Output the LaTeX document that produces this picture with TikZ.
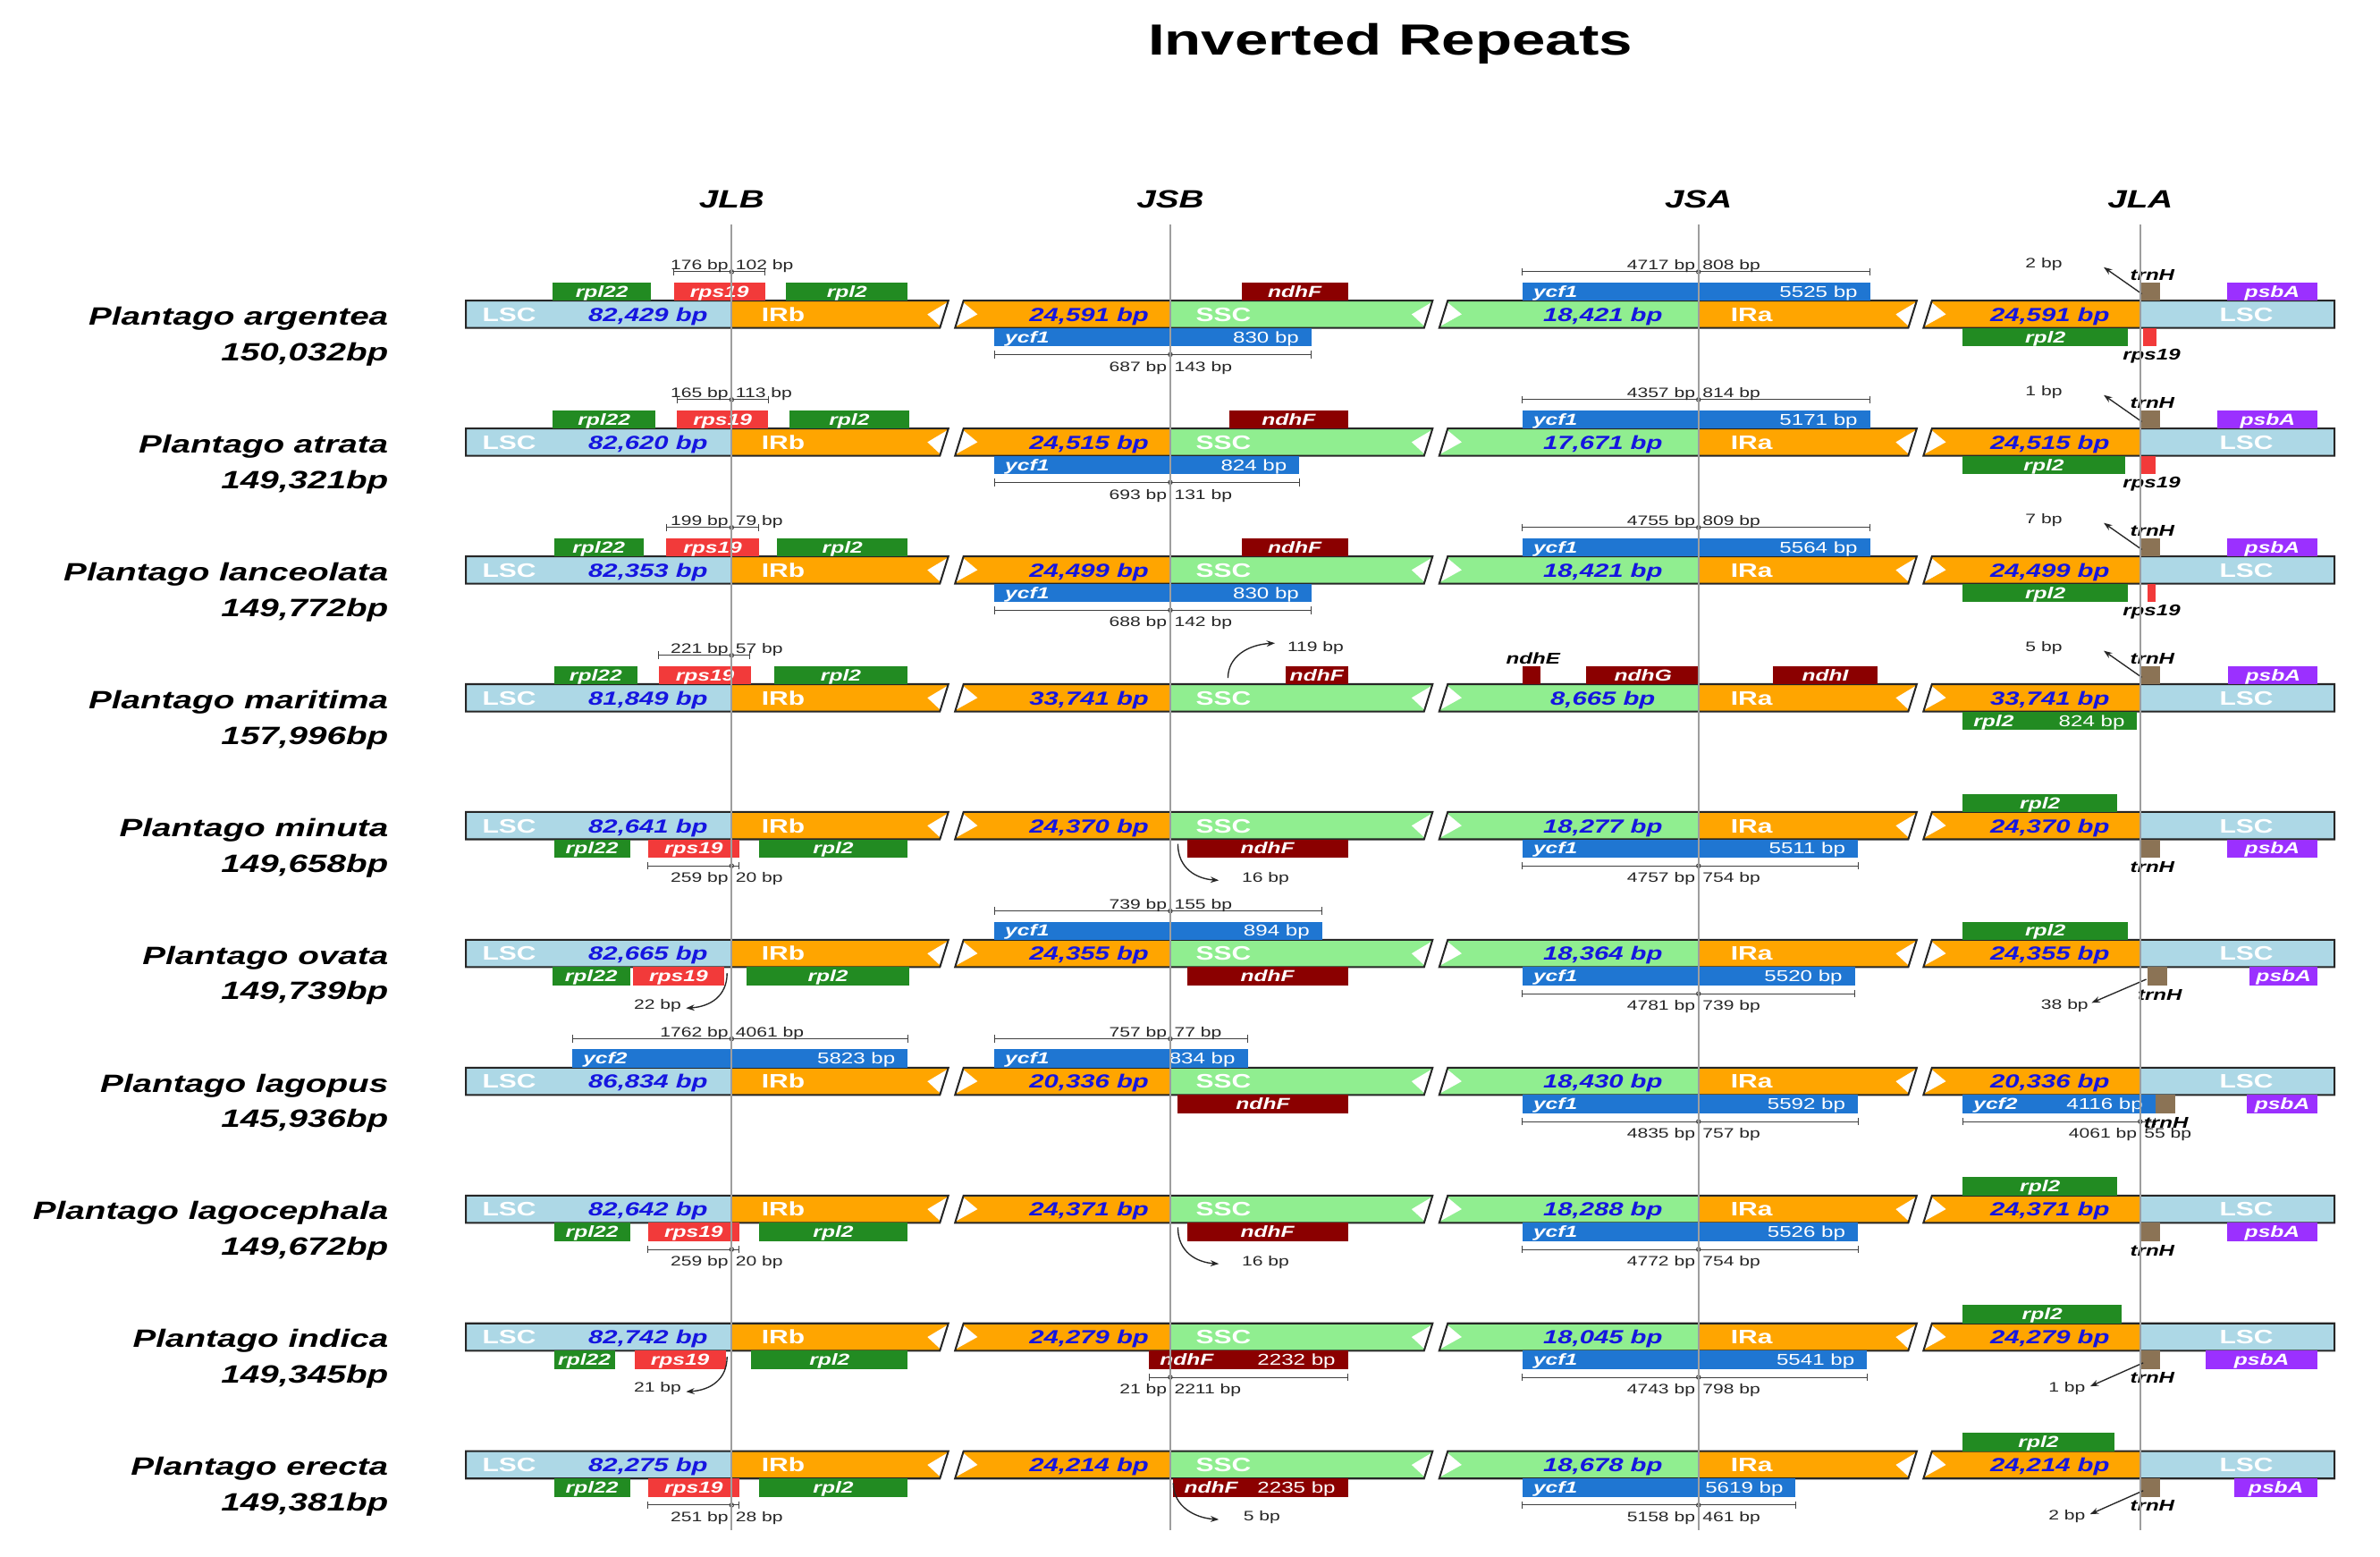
\documentclass[tikz,border=0pt]{standalone}
\usepackage{fontspec}
\setmainfont{Liberation Sans}[FakeStretch=1.38]
\usetikzlibrary{arrows.meta}
\definecolor{lsc}{HTML}{ADD8E6}
\definecolor{irc}{HTML}{FFA500}
\definecolor{sscc}{HTML}{90EE90}
\definecolor{grn}{HTML}{228B22}
\definecolor{rps}{HTML}{F23A3A}
\definecolor{ndh}{HTML}{8B0000}
\definecolor{ycf}{HTML}{1F76D2}
\definecolor{psba}{HTML}{9B30FF}
\definecolor{trnh}{HTML}{8B7355}
\definecolor{bptxt}{HTML}{1515E0}
\tikzset{
 gt/.style={inner sep=0pt, anchor=base, text=white, font=\fontsize{10.5}{11}\selectfont\bfseries\itshape},
 gn/.style={inner sep=0pt, anchor=base, text=white, font=\fontsize{10.3}{11}\selectfont},
 dt/.style={inner sep=0pt, anchor=base, text=black!85, font=\fontsize{9}{10}\selectfont},
 lab/.style={inner sep=0pt, anchor=base, text=black, font=\fontsize{10.3}{11}\selectfont\bfseries\itshape},
 regt/.style={inner sep=0pt, anchor=base, text=white, font=\fontsize{12.8}{14}\selectfont\bfseries},
 bpt/.style={inner sep=0pt, anchor=base, text=bptxt, font=\fontsize{12.5}{14}\selectfont\bfseries\itshape},
 spt/.style={inner sep=0pt, anchor=base east, text=black, font=\fontsize{16.5}{18}\selectfont\bfseries\itshape},
 hdr/.style={inner sep=0pt, anchor=base, text=black, font=\fontsize{16.5}{18}\selectfont\bfseries\itshape},
 barline/.style={draw=black!85, line width=1.2pt, line join=miter},
 dim/.style={draw=black!75, line width=0.6pt},
 arr/.style={draw=black!85, line width=0.8pt, -{Stealth[length=5.5pt,width=4pt]}},
 vline/.style={draw=black!38, line width=1.3pt},
}
\newcommand{\chlbar}[4]{%
 \fill[lsc] (307,-9) rectangle (482,9);
 \fill[irc] (482,-9) -- (624.8,-9) -- (619.2,9) -- (482,9) -- cycle;
 \fill[irc] (634.8,-9) -- (771,-9) -- (771,9) -- (629.2,9) -- cycle;
 \fill[sscc] (771,-9) -- (943.8,-9) -- (938.2,9) -- (771,9) -- cycle;
 \fill[sscc] (953.8,-9) -- (1119,-9) -- (1119,9) -- (948.2,9) -- cycle;
 \fill[irc] (1119,-9) -- (1262.8,-9) -- (1257.2,9) -- (1119,9) -- cycle;
 \fill[irc] (1272.8,-9) -- (1410,-9) -- (1410,9) -- (1267.2,9) -- cycle;
 \fill[lsc] (1410,-9) rectangle (1538,9);
 \foreach \brk in {627,946,1265}{
  \fill[white] (\brk-16,0) -- (\brk-2.6,-8) -- (\brk-7.4,8) -- cycle;
  \fill[white] (\brk+17,0) -- (\brk+7.4,-8) -- (\brk+2.6,8) -- cycle;
 }
 \draw[barline] (624.8,-9) -- (307,-9) -- (307,9) -- (619.2,9) -- cycle;
 \draw[barline] (634.8,-9) -- (943.8,-9) -- (938.2,9) -- (629.2,9) -- cycle;
 \draw[barline] (953.8,-9) -- (1262.8,-9) -- (1257.2,9) -- (948.2,9) -- cycle;
 \draw[barline] (1272.8,-9) -- (1538,-9) -- (1538,9) -- (1267.2,9) -- cycle;
 \node[regt] at (335.5,4.6) {LSC};
 \node[bpt] at (427,4.6) {#1};
 \node[regt] at (516,4.6) {IRb};
 \node[bpt] at (717.5,4.6) {#2};
 \node[regt] at (806,4.6) {SSC};
 \node[bpt] at (1056,4.6) {#3};
 \node[regt] at (1154,4.6) {IRa};
 \node[bpt] at (1350.5,4.6) {#4};
 \node[regt] at (1480,4.6) {LSC};
}
\newcommand{\spname}[2]{\node[spt] at (256,7) {#1}; \node[spt] at (256,30.5) {#2};}
\newcommand{\geneU}[4]{\fill[#1] (#2,-21) rectangle (#3,-9); \node[gt] at ({(#2+#3)/2},-11.3) {#4};}
\newcommand{\geneD}[4]{\fill[#1] (#2,9) rectangle (#3,21); \node[gt] at ({(#2+#3)/2},18.7) {#4};}
\newcommand{\geneUU}[5]{\fill[#1] (#2,-21) rectangle (#3,-9); \node[gt,anchor=base west] at (#2+7,-11.3) {#4}; \node[gn,anchor=base east] at (#3-8,-11.3) {#5};}
\newcommand{\geneDD}[5]{\fill[#1] (#2,9) rectangle (#3,21); \node[gt,anchor=base west] at (#2+7,18.7) {#4}; \node[gn,anchor=base east] at (#3-8,18.7) {#5};}
\newcommand{\dimU}[5]{%
 \draw[dim] (#1,-28) -- (#3,-28);
 \draw[dim] (#1,-30.5) -- (#1,-25.5);
 \draw[dim] (#3,-30.5) -- (#3,-25.5);
 \draw[dim] (#2,-28) circle[radius=1.3pt];
 \node[dt,anchor=base east] at (#2-2,-29.5) {#4};
 \node[dt,anchor=base west] at (#2+2.5,-29.5) {#5};}
\newcommand{\dimD}[5]{%
 \draw[dim] (#1,26.5) -- (#3,26.5);
 \draw[dim] (#1,24) -- (#1,29);
 \draw[dim] (#3,24) -- (#3,29);
 \draw[dim] (#2,26.5) circle[radius=1.3pt];
 \node[dt,anchor=base east] at (#2-2,37.5) {#4};
 \node[dt,anchor=base west] at (#2+2.5,37.5) {#5};}
\newcommand{\trnHup}[1]{%
 \fill[trnh] (1410,-21) rectangle (1423,-9);
 \node[lab] at (1418,-22.3) {trnH};
 \draw[arr] (1411,-13.5) -- (1386,-31);
 \node[dt] at (1346.5,-30.3) {#1};}
\newcommand{\rpsJLA}[2]{%
 \fill[rps] (#1,9) rectangle (#2,21);
 \node[lab] at (1417.5,30.2) {rps19};}
\newcommand{\trnHdn}[2]{%
 \fill[trnh] (#1,9) rectangle (#2,21);
 \node[lab] at ({(#1+#2)/2+1.5},30.6) {trnH};}
\begin{document}
\begin{tikzpicture}[x=1pt,y=-1pt]
\useasboundingbox (0,0) rectangle (1568,1025.5);
\fill[white] (0,0) rectangle (1568,1025.5);
\node[inner sep=0pt, anchor=base, font=\fontsize{28.7}{32}\selectfont\bfseries] (title) at (916,36) {Inverted Repeats};
\node[hdr] (jlb) at (482,137) {JLB};
\node[hdr] (jsb) at (771,137) {JSB};
\node[hdr] (jsa) at (1119,137) {JSA};
\node[hdr] (jla) at (1410,137) {JLA};
% Row 1
\begin{scope}[shift={(0,207)}]
 \chlbar{82,429 bp}{24,591 bp}{18,421 bp}{24,591 bp}
 \spname{Plantago argentea}{150,032bp}
 \geneU{grn}{364}{429}{rpl22}
 \geneU{rps}{444}{504}{rps19}
 \geneU{grn}{518}{598}{rpl2}
 \dimU{444}{482}{504}{176 bp}{102 bp}
 \geneU{ndh}{818}{888}{ndhF}
 \geneDD{ycf}{655}{864}{ycf1}{830 bp}
 \dimD{655}{771}{864}{687 bp}{143 bp}
 \geneUU{ycf}{1003}{1232}{ycf1}{5525 bp}
 \dimU{1003}{1119}{1232}{4717 bp}{808 bp}
 \trnHup{2 bp}
 \geneU{psba}{1467}{1527}{psbA}
 \geneD{grn}{1293}{1402}{rpl2}
 \rpsJLA{1412}{1421}
\end{scope}
% Row 2
\begin{scope}[shift={(0,291.2)}]
 \chlbar{82,620 bp}{24,515 bp}{17,671 bp}{24,515 bp}
 \spname{Plantago atrata}{149,321bp}
 \geneU{grn}{364}{432}{rpl22}
 \geneU{rps}{446}{506}{rps19}
 \geneU{grn}{520}{599}{rpl2}
 \dimU{446}{482}{506}{165 bp}{113 bp}
 \geneU{ndh}{810}{888}{ndhF}
 \geneDD{ycf}{655}{856}{ycf1}{824 bp}
 \dimD{655}{771}{856}{693 bp}{131 bp}
 \geneUU{ycf}{1003}{1232}{ycf1}{5171 bp}
 \dimU{1003}{1119}{1232}{4357 bp}{814 bp}
 \trnHup{1 bp}
 \geneU{psba}{1461}{1527}{psbA}
 \geneD{grn}{1293}{1400}{rpl2}
 \rpsJLA{1410}{1420}
\end{scope}
% Row 3
\begin{scope}[shift={(0,375.4)}]
 \chlbar{82,353 bp}{24,499 bp}{18,421 bp}{24,499 bp}
 \spname{Plantago lanceolata}{149,772bp}
 \geneU{grn}{365}{424}{rpl22}
 \geneU{rps}{439}{500}{rps19}
 \geneU{grn}{512}{598}{rpl2}
 \dimU{439}{482}{500}{199 bp}{79 bp}
 \geneU{ndh}{818}{888}{ndhF}
 \geneDD{ycf}{655}{864}{ycf1}{830 bp}
 \dimD{655}{771}{864}{688 bp}{142 bp}
 \geneUU{ycf}{1003}{1232}{ycf1}{5564 bp}
 \dimU{1003}{1119}{1232}{4755 bp}{809 bp}
 \trnHup{7 bp}
 \geneU{psba}{1467}{1527}{psbA}
 \geneD{grn}{1293}{1402}{rpl2}
 \rpsJLA{1415}{1420}
\end{scope}
% Row 4
\begin{scope}[shift={(0,459.6)}]
 \chlbar{81,849 bp}{33,741 bp}{8,665 bp}{33,741 bp}
 \spname{Plantago maritima}{157,996bp}
 \geneU{grn}{365}{420}{rpl22}
 \geneU{rps}{434}{495}{rps19}
 \geneU{grn}{510}{598}{rpl2}
 \dimU{434}{482}{494}{221 bp}{57 bp}
 \geneU{ndh}{847}{888}{ndhF}
 \draw[arr] (809,-13) .. controls (809,-27) and (822,-35) .. (840,-36);
 \node[dt,anchor=base west] at (848,-30.5) {119 bp};
 \fill[ndh] (1003,-21) rectangle (1015,-9);
 \node[lab] at (1010,-22.3) {ndhE};
 \geneU{ndh}{1045}{1120}{ndhG}
 \geneU{ndh}{1168}{1237}{ndhI}
 \trnHup{5 bp}
 \geneU{psba}{1468}{1527}{psbA}
 \geneDD{grn}{1293}{1408}{rpl2}{824 bp}
\end{scope}
% Row 5
\begin{scope}[shift={(0,543.8)}]
 \chlbar{82,641 bp}{24,370 bp}{18,277 bp}{24,370 bp}
 \spname{Plantago minuta}{149,658bp}
 \geneD{grn}{365}{415}{rpl22}
 \geneD{rps}{427}{487}{rps19}
 \geneD{grn}{500}{598}{rpl2}
 \dimD{427}{482}{487}{259 bp}{20 bp}
 \geneD{ndh}{782}{888}{ndhF}
 \draw[arr] (776,12) .. controls (776,28) and (788,35) .. (803,36);
 \node[dt,anchor=base west] at (818,37.5) {16 bp};
 \geneDD{ycf}{1003}{1224}{ycf1}{5511 bp}
 \dimD{1003}{1119}{1224}{4757 bp}{754 bp}
 \geneU{grn}{1293}{1395}{rpl2}
 \trnHdn{1410}{1423}
 \geneD{psba}{1467}{1527}{psbA}
\end{scope}
% Row 6
\begin{scope}[shift={(0,628)}]
 \chlbar{82,665 bp}{24,355 bp}{18,364 bp}{24,355 bp}
 \spname{Plantago ovata}{149,739bp}
 \geneUU{ycf}{655}{871}{ycf1}{894 bp}
 \dimU{655}{771}{871}{739 bp}{155 bp}
 \geneU{grn}{1293}{1402}{rpl2}
 \geneD{grn}{364}{415}{rpl22}
 \geneD{rps}{417}{477}{rps19}
 \geneD{grn}{492}{599}{rpl2}
 \draw[arr] (479,13) .. controls (479,28) and (468,35) .. (452,36);
 \node[dt,anchor=base east] at (449,36.5) {22 bp};
 \geneD{ndh}{782}{888}{ndhF}
 \geneDD{ycf}{1003}{1222}{ycf1}{5520 bp}
 \dimD{1003}{1119}{1222}{4781 bp}{739 bp}
 \trnHdn{1415}{1428}
 \draw[arr] (1414,17) -- (1378,32.5);
 \node[dt,anchor=base east] at (1376,36.5) {38 bp};
 \geneD{psba}{1482}{1527}{psbA}
\end{scope}
% Row 7
\begin{scope}[shift={(0,712.2)}]
 \chlbar{86,834 bp}{20,336 bp}{18,430 bp}{20,336 bp}
 \spname{Plantago lagopus}{145,936bp}
 \geneUU{ycf}{377}{598}{ycf2}{5823 bp}
 \dimU{377}{482}{598}{1762 bp}{4061 bp}
 \geneUU{ycf}{655}{822}{ycf1}{834 bp}
 \dimU{655}{771}{822}{757 bp}{77 bp}
 \geneD{ndh}{776}{888}{ndhF}
 \geneDD{ycf}{1003}{1224}{ycf1}{5592 bp}
 \dimD{1003}{1119}{1224}{4835 bp}{757 bp}
 \geneDD{ycf}{1293}{1420}{ycf2}{4116 bp}
 \fill[trnh] (1420,9) rectangle (1433,21);
 \dimD{1293}{1410}{1420}{4061 bp}{55 bp}
 \node[lab] at (1427,31) {trnH};
 \geneD{psba}{1480}{1527}{psbA}
\end{scope}
% Row 8
\begin{scope}[shift={(0,796.4)}]
 \chlbar{82,642 bp}{24,371 bp}{18,288 bp}{24,371 bp}
 \spname{Plantago lagocephala}{149,672bp}
 \geneD{grn}{365}{415}{rpl22}
 \geneD{rps}{427}{487}{rps19}
 \geneD{grn}{500}{598}{rpl2}
 \dimD{427}{482}{487}{259 bp}{20 bp}
 \geneD{ndh}{782}{888}{ndhF}
 \draw[arr] (776,12) .. controls (776,28) and (788,35) .. (803,36);
 \node[dt,anchor=base west] at (818,37.5) {16 bp};
 \geneDD{ycf}{1003}{1224}{ycf1}{5526 bp}
 \dimD{1003}{1119}{1224}{4772 bp}{754 bp}
 \geneU{grn}{1293}{1395}{rpl2}
 \trnHdn{1410}{1423}
 \geneD{psba}{1467}{1527}{psbA}
\end{scope}
% Row 9
\begin{scope}[shift={(0,880.6)}]
 \chlbar{82,742 bp}{24,279 bp}{18,045 bp}{24,279 bp}
 \spname{Plantago indica}{149,345bp}
 \geneU{grn}{1293}{1398}{rpl2}
 \geneD{grn}{365}{405}{rpl22}
 \geneD{rps}{418}{478}{rps19}
 \geneD{grn}{495}{598}{rpl2}
 \draw[arr] (479,13) .. controls (479,28) and (468,35) .. (452,36);
 \node[dt,anchor=base east] at (449,36.5) {21 bp};
 \geneDD{ndh}{757}{888}{ndhF}{2232 bp}
 \dimD{757}{771}{888}{21 bp}{2211 bp}
 \geneDD{ycf}{1003}{1230}{ycf1}{5541 bp}
 \dimD{1003}{1119}{1230}{4743 bp}{798 bp}
 \trnHdn{1410}{1423}
 \draw[arr] (1412,17) -- (1377,32.5);
 \node[dt,anchor=base east] at (1374,36.5) {1 bp};
 \geneD{psba}{1453}{1527}{psbA}
\end{scope}
% Row 10
\begin{scope}[shift={(0,964.8)}]
 \chlbar{82,275 bp}{24,214 bp}{18,678 bp}{24,214 bp}
 \spname{Plantago erecta}{149,381bp}
 \geneU{grn}{1293}{1393}{rpl2}
 \geneD{grn}{365}{415}{rpl22}
 \geneD{rps}{427}{487}{rps19}
 \geneD{grn}{500}{598}{rpl2}
 \dimD{427}{482}{487}{251 bp}{28 bp}
 \geneDD{ndh}{773}{888}{ndhF}{2235 bp}
 \draw[arr] (773,12) .. controls (773,28) and (788,35) .. (803,36);
 \node[dt,anchor=base west] at (819,37) {5 bp};
 \geneDD{ycf}{1003}{1183}{ycf1}{5619 bp}
 \dimD{1003}{1119}{1183}{5158 bp}{461 bp}
 \trnHdn{1410}{1423}
 \draw[arr] (1412,17) -- (1377,32.5);
 \node[dt,anchor=base east] at (1374,36.5) {2 bp};
 \geneD{psba}{1472}{1527}{psbA}
\end{scope}
% junction lines
\draw[vline] (482,148) -- (482,1008);
\draw[vline] (771,148) -- (771,1008);
\draw[vline] (1119,148) -- (1119,1008);
\draw[vline] (1410,148) -- (1410,1008);
\end{tikzpicture}
\end{document}
